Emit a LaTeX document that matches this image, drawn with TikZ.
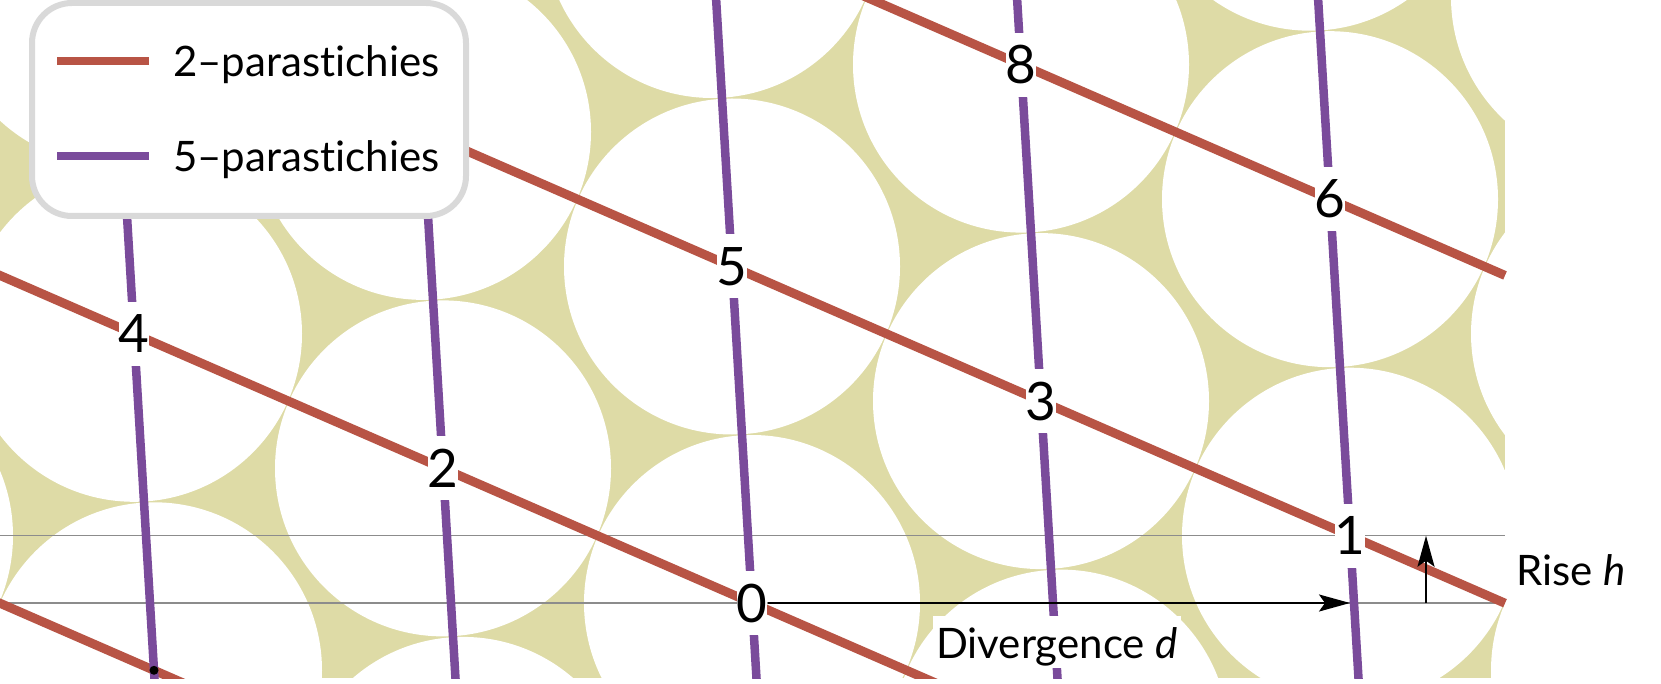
\documentclass[tikz,border=0pt]{standalone}
\usepackage{fontspec}
\setmainfont{Lato}[Ligatures={NoCommon}]
\usetikzlibrary{arrows.meta,calc}
\definecolor{bgy}{RGB}{222,219,166}
\definecolor{redp}{RGB}{184,84,69}
\definecolor{purp}{RGB}{122,75,155}
\definecolor{legb}{RGB}{217,217,217}
\definecolor{gridg}{RGB}{140,140,140}
\tikzset{
  redl/.style={draw=redp, line width=9pt},
  purl/.style={draw=purp, line width=8.5pt},
  guide/.style={draw=gridg, line width=1.3pt},
  arr/.style={draw=black, line width=2.2pt, -{Stealth[length=31pt,width=17pt,inset=6pt]}},
  num/.style={fill=white, inner sep=0pt, minimum width=29pt, minimum height=64pt, font=\fontsize{53}{60}\selectfont},
  lab/.style={fill=white, font=\fontsize{42}{50}\selectfont, inner xsep=3pt, inner ysep=0pt, text height=42pt, text depth=10pt, anchor=base west},
  legtxt/.style={font=\fontsize{42}{50}\selectfont, inner sep=0pt, anchor=base west},
  dotp/.style={fill=black, circle, inner sep=0pt, minimum size=9pt},
}
\newcommand{\slopeR}{0.4356}
\newcommand{\slopeP}{0.059435}
\begin{document}
\begin{tikzpicture}[x=1pt,y=-1pt]
\useasboundingbox (0,0) rectangle (1661,684);
% background lattice of discs
\begin{scope}
  \clip (0,0) rectangle (1505,678);
  \fill[bgy] (0,0) rectangle (1505,678);
  \foreach \n in {-3,...,11} {
    \pgfmathsetmacro\xx{mod(752+598*\n+3010,1505)}
    \pgfmathsetmacro\yy{603-67.3*\n}
    \foreach \k in {-1,0,1} {
      \fill[white] ({\xx+1505*\k},\yy) circle[radius=168pt];
    }
  }
\end{scope}
% guide lines
\coordinate (g0l) at (0,603);
\coordinate (g0r) at (1505,603);
\coordinate (g1l) at (0,535.7);
\coordinate (g1r) at (1505,535.7);
\draw[guide] (g0l) -- (g0r);
\draw[guide] (g1l) -- (g1r);
% parastichies
\begin{scope}
  \clip (-20,-20) rectangle (1530,678);
  \foreach \xo/\yo in {752/603, 2257/603, 154/670.3, 1659/670.3} {
    \draw[redl] ({-100},{\yo+\slopeR*(-100-\xo)}) -- ({1505},{\yo+\slopeR*(1505-\xo)});
  }
  \foreach \xo/\yo in {752/603, 1350/535.7, 443/468.4, 1041/401.1, 134/333.8} {
    \draw[purl] ({\xo+\slopeP*(-20-\yo)},-20) -- ({\xo+\slopeP*(700-\yo)},700);
  }
\end{scope}
% labels of primordia
\node[num] (l0) at (752,603) {0};
\node[num] (l1) at (1350,535.7) {1};
\node[num] (l2) at (443,468.4) {2};
\node[num] (l3) at (1041,401.1) {3};
\node[num] (l4) at (134,333.8) {4};
\node[num] (l5) at (732,266.5) {5};
\node[num] (l6) at (1330,199.2) {6};
\node[num] (l8) at (1021,64.6) {8};
\node[dotp] (lm1) at (154,670.3) {};
% divergence and rise
\draw[arr] (l0.east) -- (l0.east -| l1.center);
\coordinate (rb) at (1426,603);
\coordinate (rt) at (1426,535.7);
\draw[arr] (rb) -- (rt);
\node[lab] (dv) at (933,658) {Divergence \textit{d}};
\node[lab] (rs) at (1513,585) {Rise \textit{h}};
% legend
\draw[legb, line width=6pt, fill=white, rounded corners=40pt] (32,3) rectangle (466,216);
\coordinate (la) at (57,61);
\coordinate (lb) at (149,61);
\coordinate (lc) at (57,156);
\coordinate (ld) at (149,156);
\draw[draw=redp, line width=8pt] (la) -- (lb);
\draw[draw=purp, line width=8pt] (lc) -- (ld);
\node[legtxt] (t2) at (173,77) {2–parastichies};
\node[legtxt] (t5) at (173,172) {5–parastichies};
\end{tikzpicture}
\end{document}
